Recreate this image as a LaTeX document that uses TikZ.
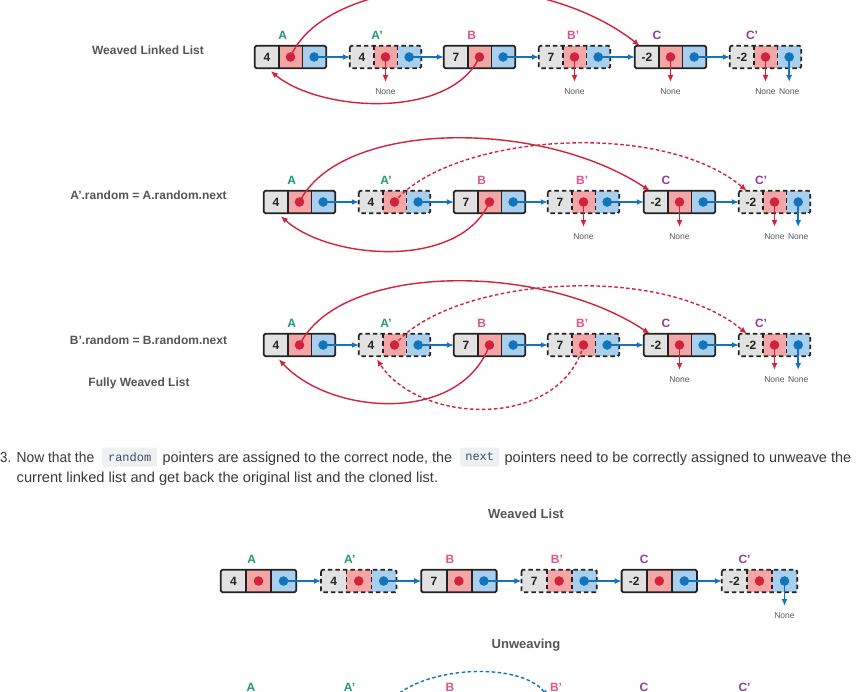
\documentclass[tikz,border=0pt]{standalone}
\usepackage{fontspec}
\setmainfont{Liberation Sans}
\setmonofont{Liberation Mono}
\usepackage{graphicx}
\usetikzlibrary{arrows.meta,positioning}
\definecolor{cgrey}{HTML}{E2E2E2}
\definecolor{cred}{HTML}{F4A6A6}
\definecolor{cblue}{HTML}{A9CFEF}
\definecolor{dred}{HTML}{D0243C}
\definecolor{dblue}{HTML}{1275BB}
\definecolor{edgec}{HTML}{222222}
\definecolor{lgreen}{HTML}{1E9B6F}
\definecolor{lpink}{HTML}{E0568A}
\definecolor{lpurple}{HTML}{8B3FA0}
\definecolor{titlec}{HTML}{555555}
\definecolor{nonec}{HTML}{5A5A5A}
\definecolor{textc}{HTML}{3A3A3A}
\definecolor{codebg}{HTML}{EEF1F4}
\definecolor{codefg}{HTML}{3E4E60}
\newlength\fitlen
\newcommand\fitw[2]{\settowidth{\fitlen}{#2}\pgfmathsetmacro\fitfac{#1/\fitlen}\scalebox{\fitfac}[1]{#2}}
\tikzset{
 cellbox/.style={inner sep=0pt, minimum height=22pt, font=\bfseries\fontsize{12}{12}\selectfont, text=edgec},
 edge/.style={draw=edgec, line width=1.8pt},
 dsh/.style={dash pattern=on 4.5pt off 3pt},
 sld/.style={},
 lbl/.style={font=\bfseries\fontsize{12}{12}\selectfont, inner sep=0pt},
 nonetxt/.style={font=\fontsize{8.5}{8.5}\selectfont, text=nonec, inner sep=1pt},
 rarr/.style={draw=dred, line width=1.4pt, -{Latex[length=7pt,width=6pt]}},
 barr/.style={draw=dblue, line width=1.4pt, -{Latex[length=7pt,width=6pt]}},
 rdash/.style={rarr, dash pattern=on 3.5pt off 2.5pt},
 bdash/.style={barr, dash pattern=on 3.5pt off 2.5pt},
 title/.style={font=\bfseries\fontsize{12}{12}\selectfont, text=titlec},
 bigtitle/.style={font=\bfseries\fontsize{13}{13}\selectfont, text=titlec},
 para/.style={font=\fontsize{14.5}{14.5}\selectfont, text=textc, inner sep=0pt, anchor=base west},
 code/.style={font=\ttfamily\fontsize{12}{12}\selectfont, text=codefg, fill=codebg, rounded corners=2pt, inner sep=0pt, minimum height=19pt, anchor=west},
}
% #1 name, #2 left x, #3 centre y, #4 value, #5 sld/dsh, #6 label, #7 label colour, #8 label offset
\newcommand\llnode[8]{%
  \node[cellbox,fill=cgrey,minimum width=\W/3] (#1v) at ({#2+\W/6},#3) {#4};
  \node[cellbox,fill=cred,minimum width=\W/3] (#1r) at ({#2+\W/2},#3) {};
  \node[cellbox,fill=cblue,minimum width=\W/3] (#1n) at ({#2+5*\W/6},#3) {};
  \draw[edge,#5] (#1v.north east) -- (#1v.south east) (#1r.north east) -- (#1r.south east);
  \draw[edge,#5,rounded corners=1.5pt] (#1v.north west) rectangle (#1n.south east);
  \fill[dred] (#1r.center) circle (4.8pt);
  \fill[dblue] (#1n.center) circle (4.8pt);
  \node[lbl,text=#7] (#1l) at ({#2+#8*\W},{#3-22}) {#6};
}
\newcommand\nonearr[2]{%
  \node[nonetxt, below=30pt of #1.center] (#1N) {None};
  \draw[#2] (#1.center) -- ([yshift=5pt]#1N.north);
}
\newcommand\nextarrows[1]{%
  \draw[barr] (#1an.center) -- (#1apv.west);
  \draw[barr] (#1apn.center) -- (#1bv.west);
  \draw[barr] (#1bn.center) -- (#1bpv.west);
  \draw[barr] (#1bpn.center) -- (#1cv.west);
  \draw[barr] (#1cn.center) -- (#1cpv.west);
}
\begin{document}
\begin{tikzpicture}[x=1pt,y=-1pt]
\useasboundingbox (0,0) rectangle (858,692);
\fill[white] (0,0) rectangle (858,692);
\clip (0,0) rectangle (858,692);

% ---------- left titles
\node[title] (t1) at (148,50) {Weaved Linked List};
\node[title] (t2) at (148.5,195) {A'.random = A.random.next};
\node[title] (t3) at (148.5,340) {B'.random = B.random.next};
\node[title] (t4) at (139,383) {Fully Weaved List};

% ---------- row 1
\def\W{71}
\llnode{p1a}{255}{57}{4}{sld}{A}{lgreen}{0.39}
\llnode{p1ap}{350}{57}{4}{dsh}{A'}{lgreen}{0.38}
\llnode{p1b}{444}{57}{7}{sld}{B}{lpink}{0.39}
\llnode{p1bp}{539}{57}{7}{dsh}{B'}{lpink}{0.48}
\llnode{p1c}{635}{57}{-2}{sld}{C}{lpurple}{0.31}
\llnode{p1cp}{730}{57}{-2}{dsh}{C'}{lpurple}{0.31}
\nextarrows{p1}
\nonearr{p1apr}{rarr}
\nonearr{p1bpr}{rarr}
\nonearr{p1cr}{rarr}
\nonearr{p1cpr}{rarr}
\nonearr{p1cpn}{barr}
\draw[rarr] (p1ar.center) .. controls (325,-25) and (530,-40) .. ([xshift=5pt]p1cv.north west);
\draw[rarr] (p1br.center) .. controls (450,120) and (320,112) .. ([xshift=4pt,yshift=-3pt]p1av.south);

% ---------- row 2
\llnode{p2a}{264}{202}{4}{sld}{A}{lgreen}{0.39}
\llnode{p2ap}{359}{202}{4}{dsh}{A'}{lgreen}{0.38}
\llnode{p2b}{454}{202}{7}{sld}{B}{lpink}{0.39}
\llnode{p2bp}{548}{202}{7}{dsh}{B'}{lpink}{0.48}
\llnode{p2c}{644}{202}{-2}{sld}{C}{lpurple}{0.31}
\llnode{p2cp}{739}{202}{-2}{dsh}{C'}{lpurple}{0.31}
\nextarrows{p2}
\nonearr{p2bpr}{rarr}
\nonearr{p2cr}{rarr}
\nonearr{p2cpr}{rarr}
\nonearr{p2cpn}{barr}
\draw[rarr] (p2ar.center) .. controls (340,120) and (540,118) .. ([xshift=6pt]p2cv.north west);
\draw[rdash] (p2apr.center) .. controls (450,135) and (660,118) .. ([xshift=8pt]p2cpv.north west);
\draw[rarr] (p2br.center) .. controls (460,270) and (330,260) .. ([xshift=5pt,yshift=-3pt]p2av.south);

% ---------- row 3
\llnode{p3a}{264}{345}{4}{sld}{A}{lgreen}{0.39}
\llnode{p3ap}{359}{345}{4}{dsh}{A'}{lgreen}{0.38}
\llnode{p3b}{454}{345}{7}{sld}{B}{lpink}{0.39}
\llnode{p3bp}{548}{345}{7}{dsh}{B'}{lpink}{0.48}
\llnode{p3c}{644}{345}{-2}{sld}{C}{lpurple}{0.31}
\llnode{p3cp}{739}{345}{-2}{dsh}{C'}{lpurple}{0.31}
\nextarrows{p3}
\nonearr{p3cr}{rarr}
\nonearr{p3cpr}{rarr}
\nonearr{p3cpn}{barr}
\draw[rarr] (p3ar.center) .. controls (340,263) and (540,261) .. ([xshift=6pt]p3cv.north west);
\draw[rdash] (p3apr.center) .. controls (450,278) and (660,261) .. ([xshift=8pt]p3cpv.north west);
\draw[rarr] (p3br.center) .. controls (460,425) and (330,415) .. ([xshift=3pt,yshift=-3pt]p3av.south);
\draw[rdash] (p3bpr.center) .. controls (560,430) and (420,425) .. ([xshift=6pt,yshift=-3pt]p3apv.south);

% ---------- paragraph
\node[para] (s0) at (0,462) {\fitw{11}{3.}};
\node[para] (s1) at (16.5,462) {\fitw{77.5}{Now that the}};
\node[code,minimum width=55pt] (c1) at (102,457) {random};
\node[para] (s2) at (162.5,462) {\fitw{289.5}{pointers are assigned to the correct node, the}};
\node[code,minimum width=39pt] (c2) at (460,457) {next};
\node[para] (s3) at (504.5,462) {\fitw{346.5}{pointers need to be correctly assigned to unweave the}};
\node[para] (s4) at (16.5,482) {\fitw{421.5}{current linked list and get back the original list and the cloned list.}};

% ---------- row 4
\node[bigtitle] (t5) at (526,514) {Weaved List};
\def\W{75}
\llnode{p4a}{221}{581}{4}{sld}{A}{lgreen}{0.41}
\llnode{p4ap}{321.2}{581}{4}{dsh}{A'}{lgreen}{0.38}
\llnode{p4b}{421.4}{581}{7}{sld}{B}{lpink}{0.38}
\llnode{p4bp}{521.6}{581}{7}{dsh}{B'}{lpink}{0.47}
\llnode{p4c}{621.8}{581}{-2}{sld}{C}{lpurple}{0.30}
\llnode{p4cp}{722}{581}{-2}{dsh}{C'}{lpurple}{0.30}
\nextarrows{p4}
\nonearr{p4cpn}{barr}

% ---------- row 5 (partly visible)
\node[bigtitle] (t6) at (526,645) {Unweaving};
\node[lbl,text=lgreen] (p5al) at (251,687) {A};
\node[lbl,text=lgreen] (p5apl) at (349.5,687) {A'};
\node[lbl,text=lpink] (p5bl) at (450,687) {B};
\node[lbl,text=lpink] (p5bpl) at (556,687) {B'};
\node[lbl,text=lpurple] (p5cl) at (644,687) {C};
\node[lbl,text=lpurple] (p5cpl) at (744.5,687) {C'};
\coordinate (p5apn) at (383,710);
\coordinate (p5bpv) at (548,697);
\draw[bdash] (p5apn) .. controls (410,665) and (520,660) .. (p5bpv);
\end{tikzpicture}
\end{document}
